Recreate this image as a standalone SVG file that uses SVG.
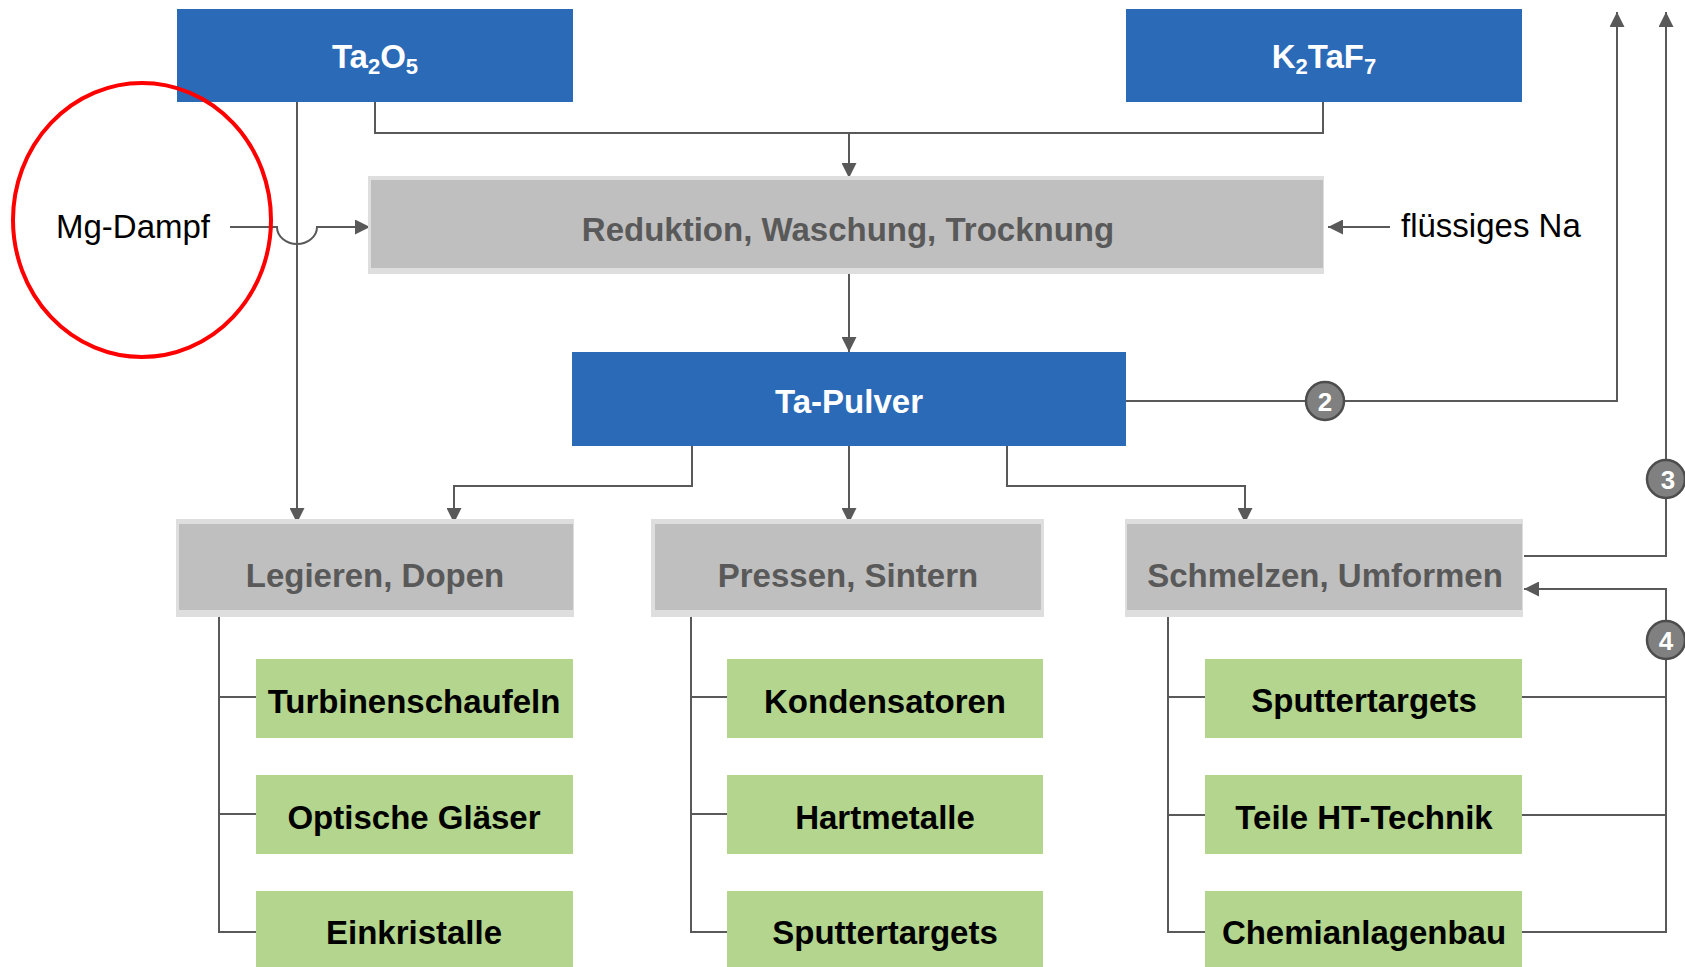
<svg xmlns="http://www.w3.org/2000/svg" width="1685" height="967" viewBox="0 0 1685 967">
  <style>
    .blue { fill: #2a6ab7; }
    .frame { fill: #dedede; }
    .grey { fill: #bfbfbf; }
    .green { fill: #b3d58d; }
    .t-white { font-family: "Liberation Sans", Arial, sans-serif; font-weight: bold; font-size: 33px; fill: #ffffff; text-anchor: middle; }
    .t-grey { font-family: "Liberation Sans", Arial, sans-serif; font-weight: bold; font-size: 33px; fill: #595959; text-anchor: middle; }
    .t-black { font-family: "Liberation Sans", Arial, sans-serif; font-weight: bold; font-size: 33px; fill: #000000; text-anchor: middle; }
    .t-plain { font-family: "Liberation Sans", Arial, sans-serif; font-size: 33px; fill: #000000; }
    .line { fill: none; stroke: #595959; stroke-width: 2; }
    .arrow { fill: none; stroke: #595959; stroke-width: 2; marker-end: url(#head); }
    .badge { fill: #808080; stroke: #4d4d4d; stroke-width: 2.5; }
    .t-badge { font-family: "Liberation Sans", Arial, sans-serif; font-weight: bold; font-size: 26px; fill: #ffffff; text-anchor: middle; }
  </style>
  <defs>
    <marker id="head" markerUnits="userSpaceOnUse" markerWidth="15" markerHeight="15" refX="15" refY="7.5" orient="auto">
      <path d="M0,0 L15,7.5 L0,15 Z" fill="#595959"/>
    </marker>
  </defs>

  <rect width="1685" height="967" fill="#ffffff"/>

  <!-- connectors -->
  <g id="connectors">
    <path class="line" d="M375,102 V133 H1323 V102"/>
    <path class="arrow" d="M849,133 V178"/>
    <path class="arrow" d="M230,227 H277 A20,17 0 0 0 317,227 H370"/>
    <path class="arrow" d="M1390,227 H1328"/>
    <path class="arrow" d="M297,102 V523"/>
    <path class="arrow" d="M849,274 V352"/>
    <path class="arrow" d="M692,446 V486 H454 V523"/>
    <path class="arrow" d="M849,446 V523"/>
    <path class="arrow" d="M1007,446 V486 H1245 V523"/>
    <path class="arrow" d="M1126,401 H1617 V12"/>
    <path class="arrow" d="M1524,556 H1666 V12"/>
    <path class="arrow" d="M1522,932 H1666 V589 H1524"/>
    <path class="line" d="M1522,697 H1666 M1522,815 H1666"/>
    <path class="line" d="M219,617 V932 H256 M219,697 H256 M219,814 H256"/>
    <path class="line" d="M691,617 V932 H727 M691,697 H727 M691,814 H727"/>
    <path class="line" d="M1168,617 V932 H1205 M1168,697 H1205 M1168,815 H1205"/>
  </g>

  <g id="na">
    <text class="t-plain" x="1401" y="237">flüssiges Na</text>
  </g>

  <g id="ta2o5">
    <rect class="blue" x="177" y="9" width="396" height="93"/>
    <text class="t-white" x="375" y="68">Ta<tspan font-size="22" dy="6">2</tspan><tspan dy="-6">O</tspan><tspan font-size="22" dy="6">5</tspan></text>
  </g>

  <!-- red ring sits on top of the oxide box -->
  <g id="mg-dampf">
    <ellipse cx="142" cy="220" rx="129" ry="137" fill="none" stroke="#ff0000" stroke-width="4"/>
    <text class="t-plain" x="56" y="238">Mg-Dampf</text>
  </g>

  <g id="k2taf7">
    <rect class="blue" x="1126" y="9" width="396" height="93"/>
    <text class="t-white" x="1324" y="68">K<tspan font-size="22" dy="6">2</tspan><tspan dy="-6">TaF</tspan><tspan font-size="22" dy="6">7</tspan></text>
  </g>

  <g id="reduktion">
    <rect class="frame" x="368" y="176" width="956" height="98"/>
    <rect class="grey" x="371" y="180" width="952" height="88"/>
    <text class="t-grey" x="848" y="241">Reduktion, Waschung, Trocknung</text>
  </g>

  <g id="ta-pulver">
    <rect class="blue" x="572" y="352" width="554" height="94"/>
    <text class="t-white" x="849" y="413">Ta-Pulver</text>
  </g>

  <g id="legieren">
    <rect class="frame" x="176" y="519" width="398" height="98"/>
    <rect class="grey" x="179" y="524" width="394" height="86"/>
    <text class="t-grey" x="375" y="587">Legieren, Dopen</text>
  </g>

  <g id="pressen">
    <rect class="frame" x="651" y="519" width="393" height="98"/>
    <rect class="grey" x="655" y="524" width="386" height="86"/>
    <text class="t-grey" x="848" y="587">Pressen, Sintern</text>
  </g>

  <g id="schmelzen">
    <rect class="frame" x="1125" y="519" width="398" height="98"/>
    <rect class="grey" x="1127" y="524" width="395" height="86"/>
    <text class="t-grey" x="1325" y="587">Schmelzen, Umformen</text>
  </g>

  <g id="turbinenschaufeln">
    <rect class="green" x="256" y="659" width="317" height="79"/>
    <text class="t-black" x="414" y="713">Turbinenschaufeln</text>
  </g>
  <g id="optische-glaeser">
    <rect class="green" x="256" y="775" width="317" height="79"/>
    <text class="t-black" x="414" y="829">Optische Gläser</text>
  </g>
  <g id="einkristalle">
    <rect class="green" x="256" y="891" width="317" height="76"/>
    <text class="t-black" x="414" y="944">Einkristalle</text>
  </g>

  <g id="kondensatoren">
    <rect class="green" x="727" y="659" width="316" height="79"/>
    <text class="t-black" x="885" y="713">Kondensatoren</text>
  </g>
  <g id="hartmetalle">
    <rect class="green" x="727" y="775" width="316" height="79"/>
    <text class="t-black" x="885" y="829">Hartmetalle</text>
  </g>
  <g id="sputtertargets-1">
    <rect class="green" x="727" y="891" width="316" height="76"/>
    <text class="t-black" x="885" y="944">Sputtertargets</text>
  </g>

  <g id="sputtertargets-2">
    <rect class="green" x="1205" y="659" width="317" height="79"/>
    <text class="t-black" x="1364" y="712">Sputtertargets</text>
  </g>
  <g id="teile-ht-technik">
    <rect class="green" x="1205" y="775" width="317" height="79"/>
    <text class="t-black" x="1364" y="829">Teile HT-Technik</text>
  </g>
  <g id="chemianlagenbau">
    <rect class="green" x="1205" y="891" width="317" height="76"/>
    <text class="t-black" x="1364" y="944">Chemianlagenbau</text>
  </g>

  <g id="badge-2">
    <circle class="badge" cx="1325" cy="401" r="19"/>
    <text class="t-badge" x="1325" y="411">2</text>
  </g>
  <g id="badge-3">
    <circle class="badge" cx="1666" cy="479" r="19"/>
    <text class="t-badge" x="1668" y="489">3</text>
  </g>
  <g id="badge-4">
    <circle class="badge" cx="1666" cy="640" r="19"/>
    <text class="t-badge" x="1666" y="650">4</text>
  </g>
</svg>
